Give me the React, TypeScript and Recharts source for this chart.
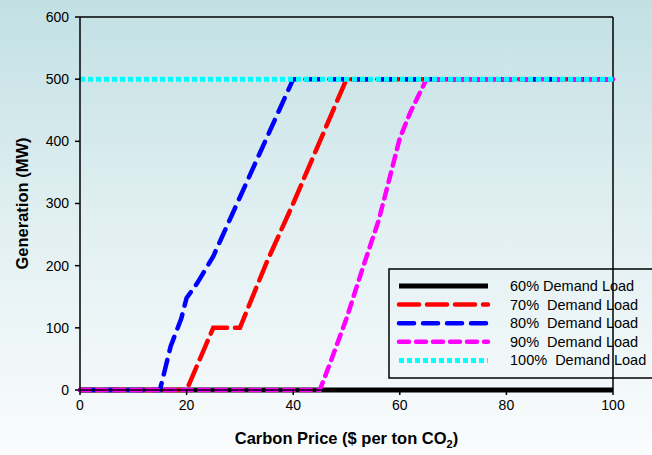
import React from "react";
import { LineChart, Line, XAxis, YAxis, ReferenceLine } from "recharts";

const FONT = "'Liberation Sans', Arial, sans-serif";

// carbon price ($/ton CO2) -> generation (MW)
const load60 = [
  { x: 0, y: 0 },
  { x: 100, y: 0 },
];
const load70 = [
  { x: 0, y: 0 },
  { x: 20, y: 0 },
  { x: 22, y: 40 },
  { x: 25, y: 100 },
  { x: 30, y: 100 },
  { x: 35, y: 205 },
  { x: 40, y: 300 },
  { x: 45, y: 400 },
  { x: 50, y: 500 },
  { x: 100, y: 500 },
];
const load80 = [
  { x: 0, y: 0 },
  { x: 15, y: 0 },
  { x: 17, y: 70 },
  { x: 19, y: 115 },
  { x: 20, y: 148 },
  { x: 22, y: 172 },
  { x: 25, y: 215 },
  { x: 30, y: 310 },
  { x: 35, y: 405 },
  { x: 40, y: 500 },
  { x: 100, y: 500 },
];
const load90 = [
  { x: 0, y: 0 },
  { x: 45, y: 0 },
  { x: 47, y: 45 },
  { x: 50, y: 115 },
  { x: 53, y: 195 },
  { x: 56, y: 272 },
  { x: 58, y: 338 },
  { x: 60, y: 405 },
  { x: 62, y: 447 },
  { x: 65, y: 500 },
  { x: 100, y: 500 },
];
const load100 = [
  { x: 0, y: 500 },
  { x: 100, y: 500 },
];

const xTicks = [0, 20, 40, 60, 80, 100];
const yTicks = [0, 100, 200, 300, 400, 500, 600];

const seriesStyles = [
  { name: "60% Demand Load", data: load60, color: "#000000", dash: undefined, cap: "butt", width: 5 },
  { name: "70%  Demand Load", data: load70, color: "#ff0000", dash: "20 8", cap: "round", width: 4.5 },
  { name: "80%  Demand Load", data: load80, color: "#0000ff", dash: "15 9", cap: "round", width: 4.5 },
  { name: "90%  Demand Load", data: load90, color: "#ff00ff", dash: "10 7", cap: "round", width: 4.5 },
  { name: "100%  Demand Load", data: load100, color: "#00ffff", dash: "5 3", cap: "butt", width: 5 },
];

const LegendBox = () => (
  <svg
    width={264}
    height={112}
    style={{ position: "absolute", left: 388, top: 268, display: "block" }}
  >
    <rect x={1} y={1} width={280} height={109} fill="none" stroke="#000" strokeWidth={1.5} />
    {seriesStyles.map((s, i) => {
      const y = 18 + i * 18.6;
      return (
        <g key={s.name}>
          <line
            x1={11}
            x2={100}
            y1={y}
            y2={y}
            stroke={s.color}
            strokeWidth={s.width}
            strokeDasharray={s.dash}
            strokeLinecap={s.cap as any}
          />
          <text
            x={122}
            y={y + 5}
            fontSize={14.5}
            fontFamily={FONT}
            fill="#000"
            style={{ whiteSpace: "pre" }}
          >
            {s.name}
          </text>
        </g>
      );
    })}
  </svg>
);

const XTitle = (props: any) => {
  const vb = props.viewBox;
  const cx = vb.x + vb.width / 2;
  return (
    <text
      x={cx}
      y={vb.y + 54}
      textAnchor="middle"
      fontFamily={FONT}
      fontSize={16.5}
      fontWeight="bold"
      fill="#000"
    >
      Carbon Price ($ per ton CO
      <tspan fontSize={11} dy={4}>2</tspan>
      <tspan dy={-4}>)</tspan>
    </text>
  );
};

const YTitle = (props: any) => {
  const vb = props.viewBox;
  const cy = vb.y + vb.height / 2;
  const x = 28;
  return (
    <text
      x={x}
      y={cy}
      transform={`rotate(-90, ${x}, ${cy})`}
      textAnchor="middle"
      fontFamily={FONT}
      fontSize={16.5}
      fontWeight="bold"
      fill="#000"
    >
      Generation (MW)
    </text>
  );
};

export default function App() {
  return (
    <div
      style={{
        position: "absolute",
        left: 0,
        top: 0,
        width: 652,
        height: 455,
        overflow: "hidden",
        background: "linear-gradient(to bottom, #c2e0e4 0%, #e2f0f2 50%, #fafcfd 100%)",
      }}
    >
      <LineChart
        width={652}
        height={455}
        margin={{ top: 17, right: 39, left: 0, bottom: 0 }}
      >
        <XAxis
          dataKey="x"
          type="number"
          domain={[0, 100]}
          ticks={xTicks}
          allowDuplicatedCategory={false}
          height={65}
          tickSize={5}
          axisLine={{ stroke: "#000", strokeWidth: 1.5 }}
          tickLine={{ stroke: "#000", strokeWidth: 1.5 }}
          tick={{ fill: "#000", fontSize: 14, fontFamily: FONT, dy: 3 }}
          label={<XTitle />}
        />
        <YAxis
          dataKey="y"
          type="number"
          domain={[0, 600]}
          ticks={yTicks}
          width={80}
          tickSize={5}
          axisLine={{ stroke: "#000", strokeWidth: 1.5 }}
          tickLine={{ stroke: "#000", strokeWidth: 1.5 }}
          tick={{ fill: "#000", fontSize: 14, fontFamily: FONT, dx: -4 }}
          label={<YTitle />}
        />
        <ReferenceLine y={600} stroke="#000" strokeWidth={1.5} />
        <ReferenceLine x={100} stroke="#000" strokeWidth={1.5} />
        {seriesStyles.map((s) => (
          <Line
            key={s.name}
            data={s.data}
            dataKey="y"
            name={s.name}
            type="linear"
            stroke={s.color}
            strokeWidth={s.width}
            strokeDasharray={s.dash}
            strokeLinecap={s.cap as any}
            dot={false}
            activeDot={false}
            isAnimationActive={false}
          />
        ))}
      </LineChart>
      <LegendBox />
    </div>
  );
}
